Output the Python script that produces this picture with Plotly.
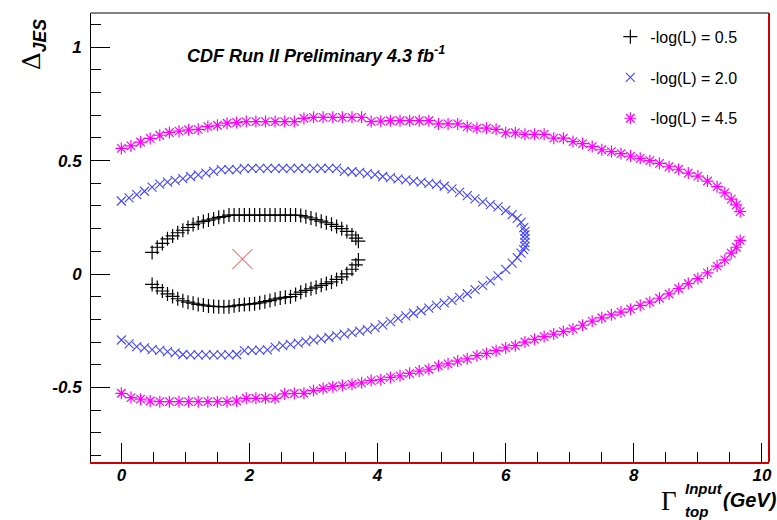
import plotly.graph_objects as go

# ---------------- data ----------------
# -log(L) = 0.5 contour (black)
black_x_up = [0.48, 0.56, 0.64, 0.72, 0.80, 0.88, 0.96, 1.04, 1.12, 1.20, 1.28, 1.36, 1.44, 1.52,
              1.60, 1.68, 1.76, 1.84, 1.92, 2.00, 2.08, 2.16, 2.24, 2.32, 2.40, 2.48, 2.56, 2.64,
              2.72, 2.80, 2.88, 2.96, 3.04, 3.12, 3.20, 3.28, 3.36, 3.44, 3.52, 3.60, 3.66, 3.70]
black_y_up = [0.095, 0.118, 0.135, 0.155, 0.168, 0.182, 0.193, 0.205, 0.218, 0.225, 0.232, 0.238,
              0.243, 0.250, 0.253, 0.260, 0.260, 0.260, 0.260, 0.260, 0.260, 0.260, 0.260, 0.260,
              0.260, 0.260, 0.260, 0.260, 0.260, 0.258, 0.252, 0.247, 0.240, 0.233, 0.226, 0.219,
              0.210, 0.200, 0.188, 0.172, 0.158, 0.145]
black_x_lo = black_x_up
black_y_lo = [-0.046, -0.060, -0.075, -0.088, -0.099, -0.109, -0.118, -0.124, -0.129, -0.134,
              -0.137, -0.141, -0.143, -0.144, -0.144, -0.144, -0.140, -0.137, -0.135, -0.133,
              -0.131, -0.127, -0.122, -0.117, -0.111, -0.106, -0.103, -0.100, -0.090, -0.080,
              -0.072, -0.065, -0.058, -0.050, -0.042, -0.035, -0.024, -0.013, 0.001, 0.021,
              0.040, 0.062]

# -log(L) = 2.0 contour (blue)
blue_x_up = [0.00, 0.12, 0.24, 0.36, 0.48, 0.60, 0.72, 0.84, 0.96, 1.08, 1.20, 1.32, 1.44, 1.56,
             1.68, 1.80, 1.92, 2.04, 2.16, 2.28, 2.40, 2.52, 2.64, 2.76, 2.88, 3.00, 3.12, 3.24,
             3.36, 3.48, 3.60, 3.72, 3.84, 3.96, 4.08, 4.20, 4.32, 4.44, 4.56, 4.68, 4.80, 4.92,
             5.04, 5.16, 5.28, 5.40, 5.52, 5.64, 5.76, 5.88, 6.00, 6.10, 6.18, 6.24, 6.28, 6.30,
             6.30, 6.30]
blue_y_up = [0.322, 0.336, 0.350, 0.365, 0.383, 0.396, 0.405, 0.413, 0.421, 0.430, 0.437, 0.445,
             0.453, 0.460, 0.460, 0.460, 0.466, 0.466, 0.466, 0.466, 0.466, 0.466, 0.466, 0.466,
             0.466, 0.466, 0.466, 0.466, 0.466, 0.453, 0.451, 0.448, 0.443, 0.438, 0.430, 0.425,
             0.420, 0.415, 0.410, 0.405, 0.400, 0.395, 0.387, 0.375, 0.360, 0.346, 0.331, 0.318,
             0.306, 0.296, 0.280, 0.262, 0.245, 0.228, 0.205, 0.188, 0.172, 0.156]
blue_x_lo = [0.00, 0.12, 0.24, 0.36, 0.48, 0.60, 0.72, 0.84, 0.96, 1.08, 1.20, 1.32, 1.44, 1.56,
             1.68, 1.80, 1.92, 2.04, 2.16, 2.28, 2.40, 2.52, 2.64, 2.76, 2.88, 3.00, 3.12, 3.24,
             3.36, 3.48, 3.60, 3.72, 3.84, 3.96, 4.08, 4.20, 4.32, 4.44, 4.56, 4.68, 4.80, 4.92,
             5.04, 5.16, 5.28, 5.40, 5.52, 5.64, 5.76, 5.88, 6.00, 6.10, 6.18, 6.24, 6.28, 6.30,
             6.30]
blue_y_lo = [-0.291, -0.308, -0.320, -0.326, -0.333, -0.337, -0.342, -0.348, -0.355, -0.357,
             -0.357, -0.357, -0.357, -0.357, -0.357, -0.355, -0.338, -0.337, -0.336, -0.335,
             -0.322, -0.316, -0.310, -0.305, -0.298, -0.292, -0.286, -0.280, -0.272, -0.265,
             -0.258, -0.252, -0.245, -0.236, -0.224, -0.210, -0.196, -0.185, -0.173, -0.162,
             -0.150, -0.138, -0.127, -0.116, -0.103, -0.087, -0.069, -0.050, -0.030, -0.008,
             0.020, 0.048, 0.072, 0.092, 0.108, 0.122, 0.138]

# -log(L) = 4.5 contour (magenta)
mag_x = [0.00, 0.15, 0.30, 0.45, 0.60, 0.75, 0.90, 1.05, 1.20, 1.35, 1.50, 1.65, 1.80, 1.95,
         2.10, 2.25, 2.40, 2.55, 2.70, 2.85, 3.00, 3.15, 3.30, 3.45, 3.60, 3.75, 3.90, 4.05,
         4.20, 4.35, 4.50, 4.65, 4.80, 4.95, 5.10, 5.25, 5.40, 5.55, 5.70, 5.85, 6.00, 6.15,
         6.30, 6.45, 6.60, 6.75, 6.90, 7.05, 7.20, 7.35, 7.50, 7.65, 7.80, 7.95, 8.10, 8.25,
         8.40, 8.55, 8.70, 8.85, 9.00, 9.15, 9.30, 9.42, 9.52, 9.60, 9.66]
mag_y_up = [0.554, 0.565, 0.582, 0.598, 0.612, 0.624, 0.630, 0.636, 0.638, 0.650, 0.656, 0.665,
            0.668, 0.672, 0.672, 0.672, 0.672, 0.672, 0.672, 0.686, 0.691, 0.691, 0.691, 0.691,
            0.691, 0.691, 0.672, 0.674, 0.676, 0.676, 0.676, 0.676, 0.676, 0.662, 0.662, 0.662,
            0.650, 0.643, 0.643, 0.638, 0.623, 0.623, 0.616, 0.616, 0.616, 0.599, 0.599, 0.584,
            0.575, 0.562, 0.548, 0.540, 0.531, 0.520, 0.510, 0.500, 0.488, 0.473, 0.462, 0.445,
            0.432, 0.410, 0.385, 0.358, 0.330, 0.305, 0.275]
mag_y_lo = [-0.526, -0.545, -0.552, -0.560, -0.563, -0.563, -0.563, -0.563, -0.563, -0.563,
            -0.563, -0.563, -0.560, -0.548, -0.548, -0.548, -0.548, -0.529, -0.527, -0.526,
            -0.514, -0.505, -0.497, -0.492, -0.486, -0.480, -0.470, -0.466, -0.456, -0.449,
            -0.438, -0.428, -0.420, -0.405, -0.396, -0.384, -0.374, -0.360, -0.350, -0.338,
            -0.326, -0.316, -0.300, -0.288, -0.276, -0.265, -0.254, -0.242, -0.226, -0.208,
            -0.193, -0.180, -0.168, -0.155, -0.138, -0.124, -0.107, -0.088, -0.064, -0.042,
            -0.020, 0.005, 0.035, 0.062, 0.092, 0.118, 0.148]

best_fit_x = [1.89]
best_fit_y = [0.066]

labels = ["-log(L) = 0.5", "-log(L) = 2.0", "-log(L) = 4.5"]
x_ticks = [0, 2, 4, 6, 8, 10]
y_ticks = [-0.5, 0, 0.5, 1]

assert len(black_x_up) == len(black_y_up) == len(black_y_lo)
assert len(blue_x_up) == len(blue_y_up)
assert len(blue_x_lo) == len(blue_y_lo)
assert len(mag_x) == len(mag_y_up) == len(mag_y_lo)

# ---------------- figure ----------------
SANS = "Liberation Sans, Arial, sans-serif"
BI = dict(family=SANS, weight="bold", style="italic", color="black")

fig = go.Figure()

fig.add_trace(go.Scatter(
    x=black_x_up + black_x_lo, y=black_y_up + black_y_lo, mode="markers", name=labels[0],
    legendgroup="a",
    marker=dict(symbol="cross-thin", size=10, line=dict(color="black", width=1.2))))
fig.add_trace(go.Scatter(
    x=blue_x_up + blue_x_lo, y=blue_y_up + blue_y_lo, mode="markers", name=labels[1],
    legendgroup="b",
    marker=dict(symbol="x-thin", size=9, line=dict(color="rgb(70,70,255)", width=1.1))))
fig.add_trace(go.Scatter(
    x=mag_x + mag_x, y=mag_y_up + mag_y_lo, mode="markers", name=labels[2],
    legendgroup="c",
    marker=dict(symbol="asterisk", size=10, line=dict(color="#ff00ff", width=1.2))))
fig.add_trace(go.Scatter(
    x=best_fit_x, y=best_fit_y, mode="markers", showlegend=False,
    marker=dict(symbol="x-thin", size=20, line=dict(color="#ff3030", width=1))))

fig.update_layout(
    width=777, height=520,
    margin=dict(l=91, r=5, t=13, b=58),
    paper_bgcolor="white", plot_bgcolor="white",
    showlegend=True,
    legend=dict(x=0.766, y=0.985, xanchor="left", yanchor="top",
                bgcolor="rgba(0,0,0,0)", tracegroupgap=17,
                font=dict(family=SANS, size=16, color="black"),
                itemsizing="trace"),
    xaxis=dict(range=[-0.474, 10.11], showgrid=False, zeroline=False,
               tickvals=x_ticks, ticktext=[str(v) for v in x_ticks],
               ticks="inside", ticklen=19, tickcolor="black", tickwidth=1,
               minor=dict(dtick=0.5, tick0=0, ticks="inside", ticklen=10, tickcolor="black"),
               showline=True, linecolor="#cc0000", linewidth=2,
               tickfont=dict(size=17, **BI), ticklabelstandoff=-3),
    yaxis=dict(range=[-0.829, 1.151], showgrid=False, zeroline=False,
               tickvals=y_ticks, ticktext=["-0.5", "0", "0.5", "1"],
               ticks="inside", ticklen=19, tickcolor="black", tickwidth=1,
               minor=dict(dtick=0.1, tick0=0, ticks="inside", ticklen=10, tickcolor="black"),
               showline=True, linecolor="black", linewidth=1,
               tickfont=dict(size=17, **BI), ticklabelstandoff=5),
    shapes=[
        dict(type="line", xref="paper", yref="paper", x0=0, x1=1, y0=1, y1=1,
             line=dict(color="black", width=1)),
        dict(type="line", xref="paper", yref="paper", x0=1, x1=1, y0=0, y1=1,
             line=dict(color="#cc0000", width=2)),
    ],
    annotations=[
        dict(text="CDF Run II Preliminary 4.3 fb<sup>-1</sup>", xref="paper", yref="paper",
             x=(185 - 91) / 681, y=1 - (54 - 13) / 449, xanchor="left", yanchor="middle",
             showarrow=False, font=dict(size=18, **BI)),
        # y-axis title
        dict(text="Δ<sub><span style='font-family:Liberation Sans, Arial, sans-serif'>"
                  "<b><i>JES</i></b></span></sub>", xref="paper", yref="paper",
             x=(33 - 91) / 681, y=1 - (45 - 13) / 449, xanchor="center", yanchor="middle",
             textangle=-90, showarrow=False,
             font=dict(family="DejaVu Serif, Liberation Serif, serif", size=25, color="black")),
        # x-axis title pieces
        dict(text="Γ", xref="paper", yref="paper",
             x=(672 - 91) / 681, y=-(501 - 462) / 449, xanchor="center", yanchor="middle",
             showarrow=False,
             font=dict(family="Liberation Serif, DejaVu Serif, serif", size=27, color="black")),
        dict(text="Input", xref="paper", yref="paper",
             x=(707 - 91) / 681, y=-(488 - 462) / 449, xanchor="center", yanchor="middle",
             showarrow=False, font=dict(size=15, **BI)),
        dict(text="top", xref="paper", yref="paper",
             x=(699 - 91) / 681, y=-(511 - 462) / 449, xanchor="center", yanchor="middle",
             showarrow=False, font=dict(size=15, **BI)),
        dict(text="(GeV)", xref="paper", yref="paper",
             x=(753 - 91) / 681, y=-(500 - 462) / 449, xanchor="center", yanchor="middle",
             showarrow=False, font=dict(size=20, **BI)),
    ],
)

fig.write_html("out.html", config={"displayModeBar": False},
               post_script="document.body.style.margin='0';")
